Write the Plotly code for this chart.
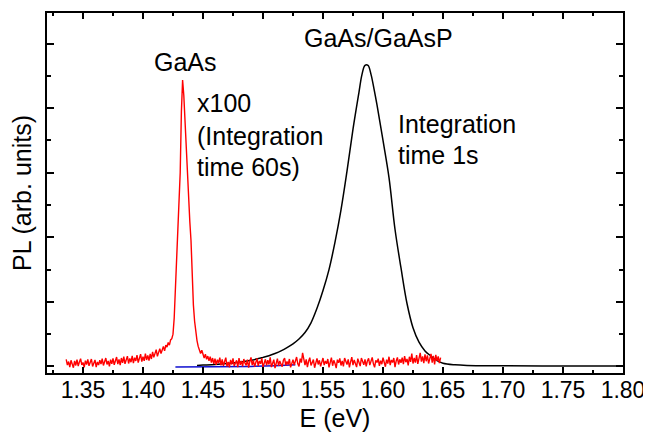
import numpy as np
import plotly.graph_objects as go

# ---- data ----
# GaAs/GaAsP PL (integration time 1 s), black
black_E = [1.445, 1.45, 1.46, 1.47, 1.48, 1.49, 1.50, 1.505, 1.51, 1.515, 1.52, 1.525,
           1.53, 1.535, 1.54, 1.545, 1.55, 1.555, 1.56, 1.565, 1.57, 1.575, 1.58, 1.5825,
           1.585, 1.5875, 1.59, 1.5925, 1.595, 1.60, 1.605, 1.61, 1.615, 1.62, 1.625, 1.63, 1.635,
           1.64, 1.645, 1.65, 1.66, 1.67, 1.70, 1.75, 1.80]
black_I = [0.03, 0.04, 0.06, 0.09, 0.13, 0.19, 0.28, 0.33, 0.40, 0.48, 0.58, 0.70,
           0.85, 1.05, 1.35, 1.80, 2.35, 3.00, 3.85, 4.85, 6.05, 7.35, 8.50, 9.05,
           9.33, 9.33, 9.05, 8.60, 8.10, 7.00, 5.85, 4.25, 3.05, 1.95, 1.20, 0.75, 0.48,
           0.32, 0.18, 0.10, 0.05, 0.03, 0.02, 0.01, 0.01]

# blue baseline segment
blue_E = [1.427, 1.46, 1.49, 1.51, 1.527]
blue_I = [-0.02, -0.02, 0.00, 0.02, 0.05]

# GaAs PL x100 (integration time 60 s), red; sampled every 1 meV from 1.336 eV
red_E0 = 1.336
red_step = 0.001
red_I = [
    0.22, 0.04, 0.15, -0.02, 0.19, 0.08, -0.04, 0.17, 0.03, 0.21,
    0.01, 0.14, 0.24, 0.05, 0.12, -0.03, 0.18, 0.06, 0.22, 0.02,
    0.13, 0.23, 0.00, 0.09, 0.20, -0.02, 0.14, 0.04, 0.19, 0.07,
    0.24, 0.03, 0.15, 0.26, 0.06, 0.17, 0.00, 0.21, 0.08, 0.25,
    0.05, 0.16, 0.29, 0.07, 0.22, 0.04, 0.26, 0.11, 0.30, 0.08,
    0.21, 0.32, 0.09, 0.25, 0.13, 0.33, 0.10, 0.27, 0.17, 0.35,
    0.12, 0.26, 0.38, 0.15, 0.30, 0.17, 0.40, 0.20, 0.34, 0.18,
    0.39, 0.23, 0.45, 0.28, 0.40, 0.52, 0.31, 0.47, 0.55, 0.40,
    0.50, 0.62, 0.48, 0.66, 0.60, 0.74, 0.66, 0.82, 0.86, 1.00,
    1.50, 2.40, 3.10, 3.80, 4.60, 6.00, 7.90, 8.87, 8.40, 7.60,
    6.50, 6.10, 5.20, 4.50, 3.90, 2.70, 1.90, 1.40, 1.00, 0.80,
    0.62, 0.48, 0.40, 0.50, 0.33, 0.26, 0.38, 0.22, 0.32, 0.17,
    0.30, 0.12, 0.26, 0.08, 0.24, 0.05, 0.21, 0.10, 0.27, 0.03,
    0.22, 0.02, 0.15, 0.27, 0.00, 0.14, -0.03, 0.20, 0.06, 0.25,
    0.01, 0.13, 0.19, -0.02, 0.26, 0.05, 0.17, 0.00, 0.23, 0.10,
    0.03, 0.21, -0.04, 0.15, 0.28, 0.04, 0.18, -0.01, 0.12, 0.25,
    0.02, 0.17, 0.08, 0.26, -0.03, 0.14, 0.22, 0.03, 0.19, 0.06,
    0.28, -0.02, 0.13, 0.21, -0.05, 0.11, 0.24, 0.02, 0.17, 0.07,
    -0.01, 0.19, 0.26, 0.03, 0.15, 0.06, 0.23, -0.03, 0.12, 0.21,
    0.04, 0.17, 0.29, 0.08, 0.00, 0.24, 0.12, 0.42, 0.16, 0.04,
    0.22, -0.02, 0.16, 0.27, 0.03, 0.12, 0.21, -0.04, 0.14, 0.25,
    0.06, 0.19, 0.00, 0.13, 0.26, 0.04, 0.17, 0.08, 0.23, -0.03,
    0.14, 0.27, 0.02, 0.19, 0.09, -0.05, 0.21, 0.11, 0.25, 0.03,
    0.17, 0.00, 0.26, 0.12, 0.06, 0.22, -0.03, 0.14, 0.29, 0.04,
    0.20, 0.09, -0.02, 0.24, 0.13, 0.01, 0.26, 0.11, 0.05, 0.22,
    0.00, 0.17, 0.25, 0.04, 0.14, 0.28, 0.08, -0.03, 0.19, 0.12,
    0.24, 0.02, 0.18, 0.07, 0.27, 0.13, -0.01, 0.21, 0.09, 0.30,
    0.04, 0.20, 0.12, 0.26, -0.02, 0.17, 0.28, 0.06, 0.22, 0.11,
    0.27, 0.07, 0.32, 0.13, 0.23, 0.03, 0.30, 0.14, 0.40, 0.09,
    0.26, 0.12, 0.35, 0.08, 0.28, 0.42, 0.15, 0.31, 0.10, 0.37,
    0.16, 0.34, 0.09, 0.30, 0.39, 0.12, 0.33, 0.06, 0.36, 0.17,
    0.31, 0.10, 0.27,
]
red_E = np.round(red_E0 + red_step * np.arange(len(red_I)), 4)

x_ticks = [1.35, 1.40, 1.45, 1.50, 1.55, 1.60, 1.65, 1.70, 1.75, 1.80]

FONT = "Liberation Sans"

fig = go.Figure()
fig.add_trace(go.Scatter(x=black_E, y=black_I, mode="lines",
                         line=dict(color="black", width=1.5), line_shape="spline",
                         showlegend=False))
fig.add_trace(go.Scatter(x=blue_E, y=blue_I, mode="lines",
                         line=dict(color="#1010d0", width=1.5), showlegend=False))
fig.add_trace(go.Scatter(x=red_E, y=red_I, mode="lines",
                         line=dict(color="#ff0000", width=1.4), showlegend=False))

ann_font = dict(family=FONT, size=25, color="black")
annotations = [
    dict(x=1.4356, y=9.44, text="GaAs", xanchor="center"),
    dict(x=1.4431, y=8.16, text="x100", xanchor="left"),
    dict(x=1.4431, y=7.15, text="(Integration", xanchor="left"),
    dict(x=1.4431, y=6.19, text="time 60s)", xanchor="left"),
    dict(x=1.5964, y=10.19, text="GaAs/GaAsP", xanchor="center"),
    dict(x=1.6106, y=7.52, text="Integration", xanchor="left"),
    dict(x=1.6106, y=6.56, text="time 1s", xanchor="left"),
]
for a in annotations:
    fig.add_annotation(xref="x", yref="y", showarrow=False, yanchor="middle",
                       font=ann_font, **a)

axis_common = dict(showline=True, linecolor="black", linewidth=1.5, mirror="ticks",
                   ticks="inside", tickcolor="black", tickwidth=1.5,
                   showgrid=False, zeroline=False, automargin=False)

# page body has an 8 px margin, so the figure is 8 px smaller and margins shifted
fig.update_layout(
    width=643, height=424,
    margin=dict(l=39, r=28, t=5, b=59),
    paper_bgcolor="white", plot_bgcolor="white",
    font=dict(family=FONT, size=22, color="black"),
    xaxis=dict(range=[1.32, 1.80], tickmode="array", tickvals=x_ticks,
               ticktext=[f"{v:.2f}" for v in x_ticks], ticklen=6,
               ticklabelstandoff=-4,
               minor=dict(dtick=0.025, tick0=1.325, ticklen=3, ticks="inside",
                          tickcolor="black", tickwidth=1.5),
               title=dict(text="E (eV)", font=dict(family=FONT, size=25), standoff=8),
               tickfont=dict(family=FONT, size=23), **axis_common),
    yaxis=dict(range=[-0.204, 10.95], tick0=0, dtick=2, ticklen=7,
               showticklabels=False,
               minor=dict(dtick=1, tick0=0, ticklen=4, ticks="inside",
                          tickcolor="black", tickwidth=1.5),
               title=dict(text="PL (arb. units)", font=dict(family=FONT, size=25), standoff=8),
               **axis_common),
)

fig.write_html("out.html")
